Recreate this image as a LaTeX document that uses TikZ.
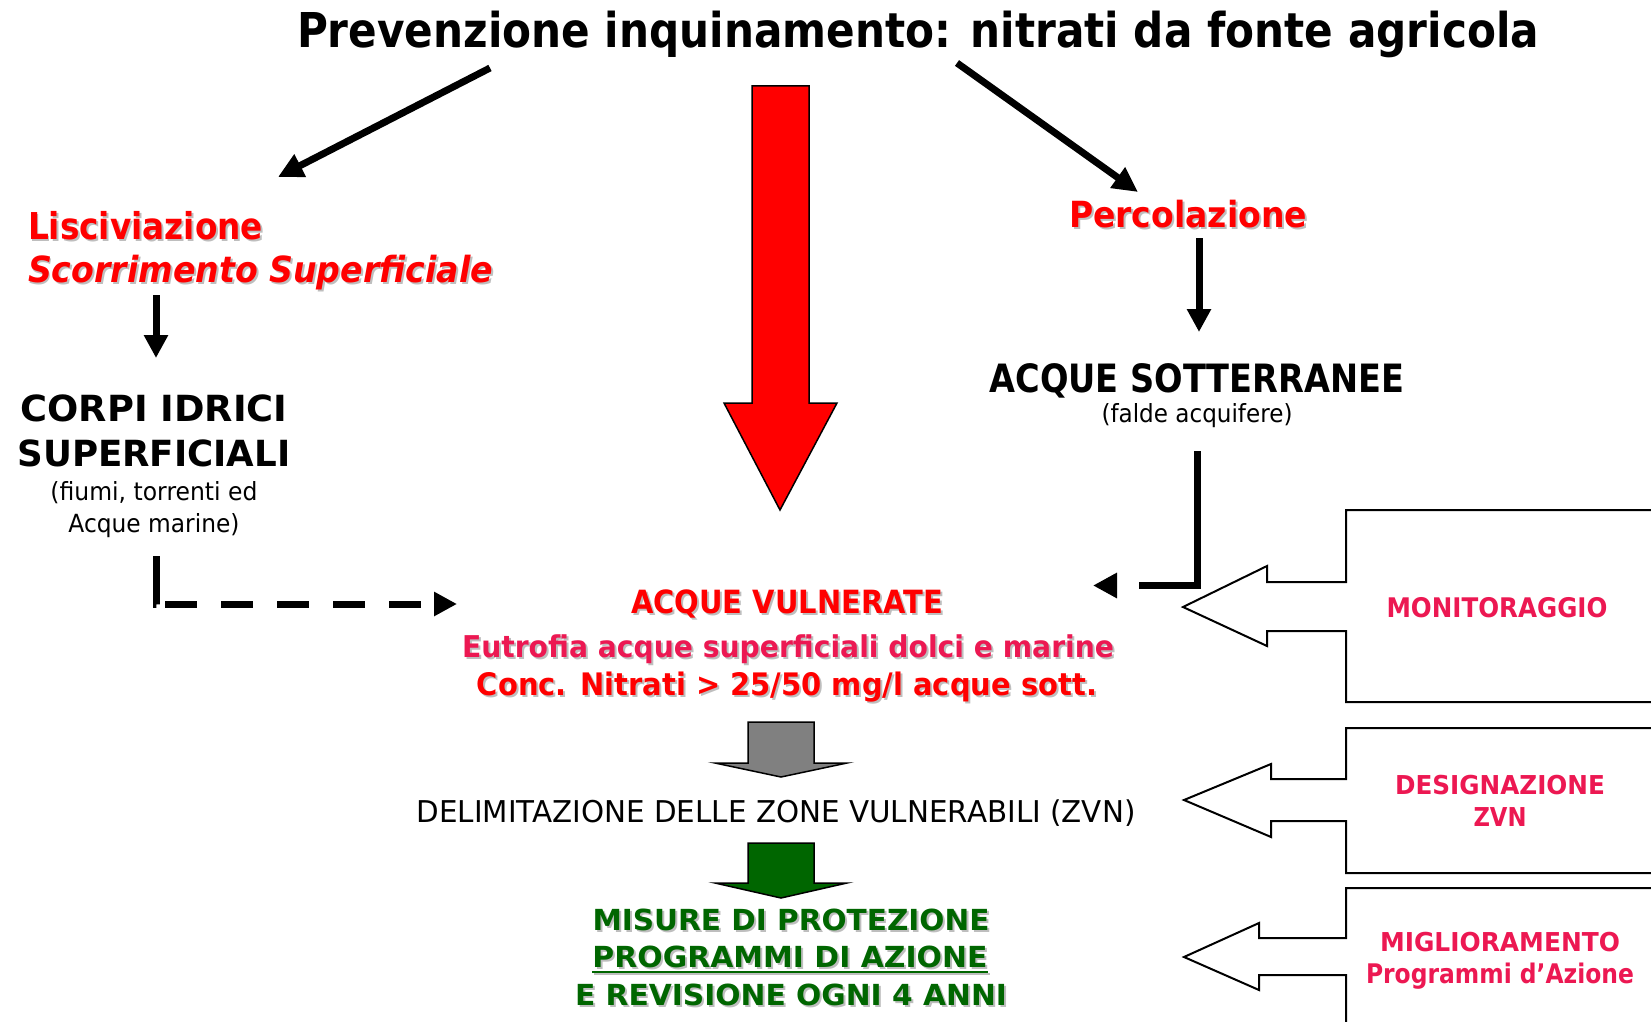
\documentclass[tikz,border=0pt]{standalone}
\usepackage{fontspec}
\setmainfont{DejaVu Sans}
\usepackage{graphicx}
\usetikzlibrary{arrows.meta}
\definecolor{vred}{RGB}{255,0,0}
\definecolor{vpink}{RGB}{236,24,82}
\definecolor{vgreen}{RGB}{0,102,0}
\definecolor{shgray}{RGB}{190,190,190}
\definecolor{agray}{RGB}{128,128,128}
\newcommand{\fw}[2]{\resizebox{#1pt}{\height}{#2}}
\newcommand{\fs}[1]{\fontsize{#1pt}{#1pt}\selectfont}
\begin{document}
\begin{tikzpicture}[x=1pt,y=-1pt,
  tx/.style={inner sep=0pt,outer sep=0pt,anchor=base},
  txw/.style={inner sep=0pt,outer sep=0pt,anchor=base west},
  shd/.style={text=shgray},
  thickarrow/.style={line width=7pt,-{Triangle[length=23pt,width=23pt]}},
  callout/.style={draw=black,line width=2pt,line join=miter},
  bigarrow/.style={draw=black,line width=1.5pt,line join=miter}]
\useasboundingbox (0,0) rectangle (1651,1022);

% title
\node[tx] (title) at (918,48) {\fs{48}\bfseries\fw{1242}{Prevenzione inquinamento: nitrati da fonte agricola}};

% left branch
\node[txw,shd] (liscsh) at (30,241) {\fs{37}\bfseries\fw{235}{Lisciviazione}};
\node[txw,text=vred] (lisc) at (28,239) {\fs{37}\bfseries\fw{235}{Lisciviazione}};
\node[txw,shd] (scorsh) at (30,284) {\fs{36}\bfseries\itshape\fw{465}{Scorrimento Superficiale}};
\node[txw,text=vred] (scor) at (28,282) {\fs{36}\bfseries\itshape\fw{465}{Scorrimento Superficiale}};
\node[tx] (corpi) at (154,421) {\fs{36}\bfseries\fw{267}{CORPI IDRICI}};
\node[tx] (superf) at (154,466) {\fs{36}\bfseries\fw{273}{SUPERFICIALI}};
\node[tx] (fiumi) at (154,500) {\fs{25}\fw{207}{(fiumi, torrenti ed}};
\node[tx] (marine) at (154,532) {\fs{25}\fw{171}{Acque marine)}};

% right branch
\node[tx,shd] (percsh) at (1190,229) {\fs{36}\bfseries\fw{238}{Percolazione}};
\node[tx,text=vred] (perc) at (1188,227) {\fs{36}\bfseries\fw{238}{Percolazione}};
\node[tx] (sott) at (1197,392) {\fs{39}\bfseries\fw{415}{ACQUE SOTTERRANEE}};
\node[tx] (falde) at (1197,422) {\fs{25}\fw{191}{(falde acquifere)}};

% centre
\node[tx,shd] (vulnsh) at (789,615) {\fs{32}\bfseries\fw{312}{ACQUE VULNERATE}};
\node[tx,text=vred] (vuln) at (787,613) {\fs{32}\bfseries\fw{312}{ACQUE VULNERATE}};
\node[tx,shd] (eutrsh) at (790,659) {\fs{30}\bfseries\fw{652}{Eutrofia acque superficiali dolci e marine}};
\node[tx,text=vpink] (eutr) at (788,657) {\fs{30}\bfseries\fw{652}{Eutrofia acque superficiali dolci e marine}};
\node[tx,shd] (concsh) at (789,697) {\fs{31}\bfseries\fw{620}{Conc. Nitrati > 25/50 mg/l acque sott.}};
\node[tx,text=vred] (conc) at (787,695) {\fs{31}\bfseries\fw{620}{Conc. Nitrati > 25/50 mg/l acque sott.}};
\node[tx] (delim) at (776,822) {\fs{30}\fw{719}{DELIMITAZIONE DELLE ZONE VULNERABILI (ZVN)}};
\node[tx,shd] (misush) at (793,932) {\fs{29}\bfseries\fw{397}{MISURE DI PROTEZIONE}};
\node[tx,text=vgreen] (misu) at (791,930) {\fs{29}\bfseries\fw{397}{MISURE DI PROTEZIONE}};
\node[tx,shd] (progsh) at (792,969) {\fs{29}\bfseries\fw{395}{PROGRAMMI DI AZIONE}};
\node[tx,text=vgreen] (prog) at (790,967) {\fs{29}\bfseries\fw{395}{PROGRAMMI DI AZIONE}};
\draw[shgray,line width=2.5pt] ([xshift=2pt,yshift=-7pt]prog.base west) -- ([xshift=2pt,yshift=-7pt]prog.base east);
\draw[vgreen,line width=2.5pt] ([yshift=-5pt]prog.base west) -- ([yshift=-5pt]prog.base east);
\node[tx,shd] (revish) at (793,1007) {\fs{29}\bfseries\fw{432}{E REVISIONE OGNI 4 ANNI}};
\node[tx,text=vgreen] (revi) at (791,1005) {\fs{29}\bfseries\fw{432}{E REVISIONE OGNI 4 ANNI}};

% right boxes
\draw[callout] (1660,510) -- (1346,510) -- (1346,582) -- (1267,582) -- (1267,566) -- (1183,607)
  -- (1267,646) -- (1267,631) -- (1346,631) -- (1346,702) -- (1660,702);
\draw[callout] (1660,728) -- (1346,728) -- (1346,779) -- (1271,779) -- (1271,764) -- (1184,800)
  -- (1271,837) -- (1271,821) -- (1346,821) -- (1346,873) -- (1660,873);
\draw[callout] (1660,888) -- (1346,888) -- (1346,938) -- (1259,938) -- (1259,923) -- (1184,957)
  -- (1259,990) -- (1259,975) -- (1346,975) -- (1346,1030);
\node[tx,text=vpink] (moni) at (1497,617) {\fs{27}\bfseries\fw{221}{MONITORAGGIO}};
\node[tx,text=vpink] (desi) at (1500,794) {\fs{26}\bfseries\fw{210}{DESIGNAZIONE}};
\node[tx,text=vpink] (zvn) at (1500,826) {\fs{26}\bfseries\fw{53}{ZVN}};
\node[tx,text=vpink] (migl) at (1500,951) {\fs{26}\bfseries\fw{240}{MIGLIORAMENTO}};
\node[tx,text=vpink] (prga) at (1500,983) {\fs{27}\bfseries\fw{268}{Programmi d’Azione}};

% big arrows
\draw[bigarrow,fill=vred] (752,86) -- (809,86) -- (809,403) -- (837,403) -- (780,510) -- (724,403) -- (752,403) -- cycle;
\draw[bigarrow,fill=agray] (748,722) -- (814,722) -- (814,763) -- (847,763) -- (781,777) -- (715,763) -- (748,763) -- cycle;
\draw[bigarrow,fill=vgreen] (748,843) -- (814,843) -- (814,883) -- (847,883) -- (781,898) -- (715,883) -- (748,883) -- cycle;

% connectors
\coordinate (dl0) at (490,68);
\coordinate (dl1) at (278,177);
\coordinate (dr0) at (957,63);
\coordinate (dr1) at (1138,192);
\draw[line width=7pt,-{Triangle[length=25pt,width=24pt]}] (dl0) -- (dl1);
\draw[line width=7pt,-{Triangle[length=25pt,width=24pt]}] (dr0) -- (dr1);

\coordinate (vl0) at (156,295);
\coordinate (vl1) at (156,358);
\draw[thickarrow] (vl0) -- (vl1);
\coordinate (vr0) at (1199,238);
\coordinate (vr1) at (1199,332);
\draw[thickarrow] (vr0) -- (vr1);

\coordinate (el0) at (156,556);
\coordinate (el1) at (457,604);
\draw[line width=7pt,dash pattern=on 48pt off 9pt on 32pt off 24pt on 32pt off 24pt on 32pt off 24pt on 32pt off 24pt on 32pt off 100pt,
  -{Triangle[length=23pt,width=23pt]}] (el0) |- (el1);
\coordinate (er0) at (1197,451);
\coordinate (er1) at (1093,585.5);
\draw[line width=7pt,line join=miter,dash pattern=on 192.5pt off 100pt,
  -{Triangle[length=24pt,width=24pt]}] (er0) |- (er1);
\end{tikzpicture}
\end{document}
